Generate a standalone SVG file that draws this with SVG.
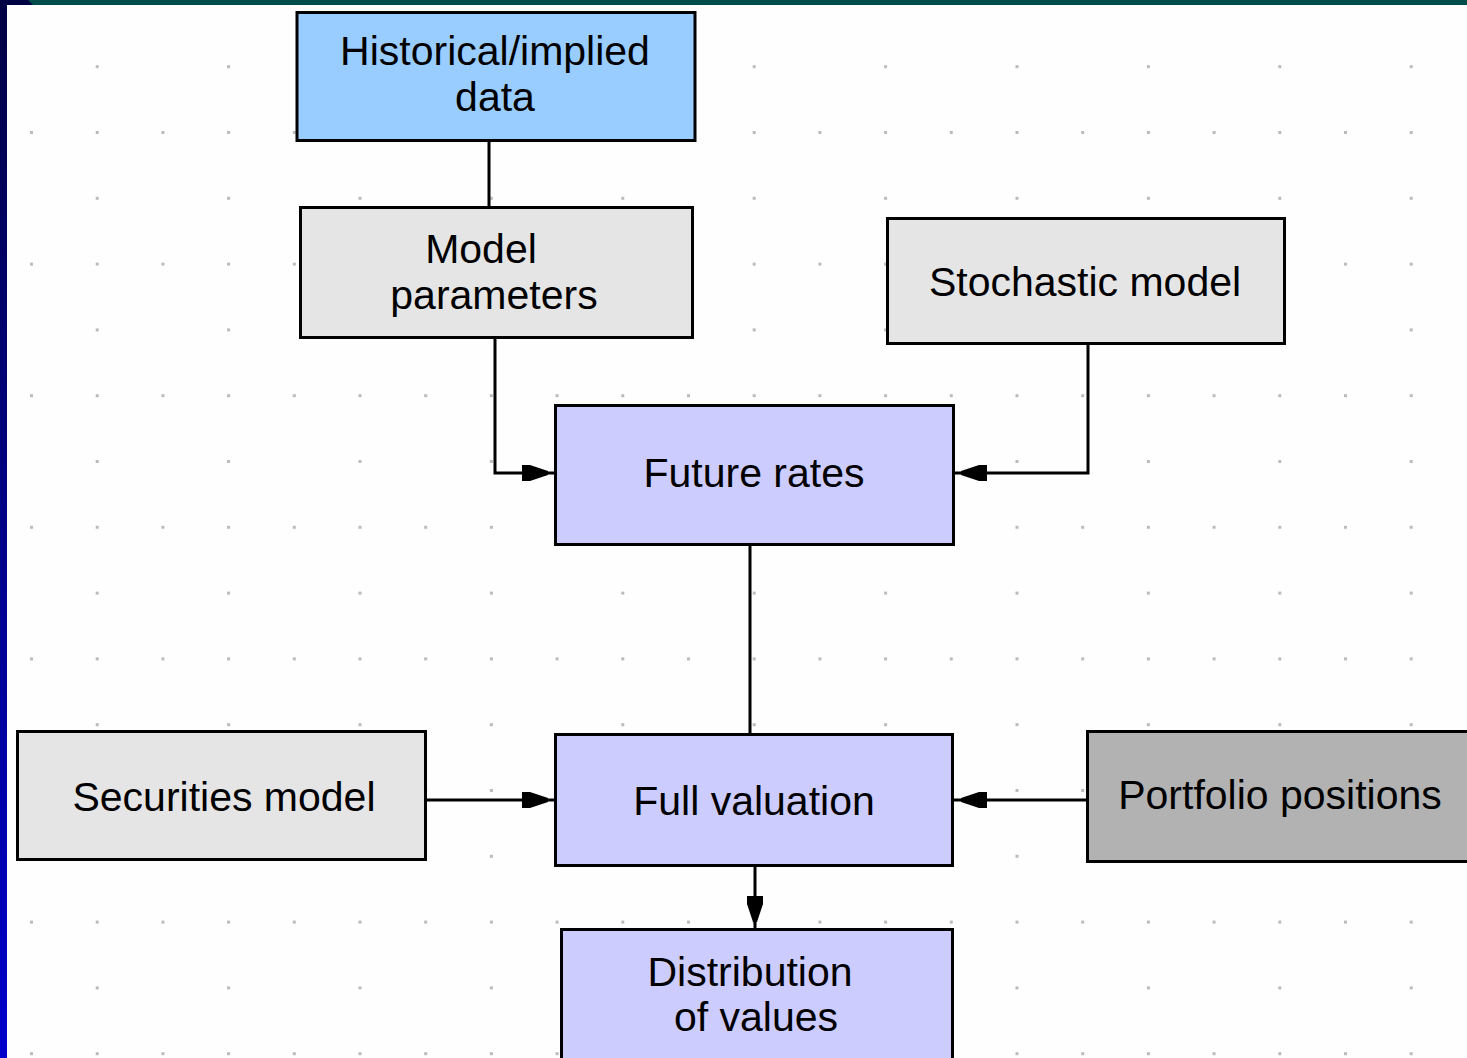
<svg xmlns="http://www.w3.org/2000/svg" width="1467" height="1058" viewBox="0 0 1467 1058">
  <style>
    .box { stroke: #000; stroke-width: 3; }
    .hist { fill: #99CCFF; }
    .grey { fill: #E5E5E5; }
    .lav { fill: #CCCCFF; }
    .dark { fill: #B2B2B2; }
    .lbl { font-family: "Liberation Sans", Arial, sans-serif; font-size: 41px; fill: #000; text-anchor: middle; }
    .conn { stroke: #000; stroke-width: 3; fill: none; }
    .dot { fill: #BBBBBB; shape-rendering: crispEdges; }
  </style>
  <defs>
    <pattern id="dots" patternUnits="userSpaceOnUse" x="30" y="131" width="131.4" height="131.6">
      <rect class="dot" x="0" y="0" width="2.5" height="2.5"/>
      <rect class="dot" x="65.7" y="0" width="2.5" height="2.5"/>
      <rect class="dot" x="65.7" y="65.8" width="2.5" height="2.5"/>
    </pattern>
    <linearGradient id="sidebar" x1="0" y1="0" x2="0" y2="1">
      <stop offset="0" stop-color="#000044"/>
      <stop offset="0.5" stop-color="#000088"/>
      <stop offset="1" stop-color="#0000CC"/>
    </linearGradient>
    <marker id="arr" markerUnits="userSpaceOnUse" viewBox="0 -10 34 20" markerWidth="34" markerHeight="20" refX="33" refY="0" orient="auto">
      <path d="M0,-8 L8,-8 L26,-2 L26,2 L8,8 L0,8 Z" fill="#000"/>
    </marker>
  </defs>

  <rect x="0" y="0" width="1467" height="1058" fill="#FEFEFE"/>
  <rect x="0" y="0" width="1467" height="1058" fill="url(#dots)"/>

  <!-- frame bars -->
  <rect x="0" y="0" width="1467" height="5" fill="#004C4C"/>
  <polygon points="0,0 28,0 33,5 0,5" fill="#000044"/>
  <rect x="0" y="0" width="7" height="1058" fill="url(#sidebar)"/>

  <g id="connectors">
    <path class="conn" d="M489,141 V207"/>
    <path class="conn" d="M495,339 V473 H555" marker-end="url(#arr)"/>
    <path class="conn" d="M1088,344 V473 H954" marker-end="url(#arr)"/>
    <path class="conn" d="M750,545 V734"/>
    <path class="conn" d="M426,800 H555" marker-end="url(#arr)"/>
    <path class="conn" d="M1088,800 H954" marker-end="url(#arr)"/>
    <path class="conn" d="M755,866 V929" marker-end="url(#arr)"/>
  </g>

  <g id="historical">
    <rect class="box hist" x="297" y="12.5" width="398" height="128"/>
    <text class="lbl" x="495" y="65">Historical/implied</text>
    <text class="lbl" x="495" y="111">data</text>
  </g>

  <g id="model-parameters">
    <rect class="box grey" x="300.5" y="207.5" width="392" height="130"/>
    <text class="lbl" x="481" y="263">Model</text>
    <text class="lbl" x="494" y="309">parameters</text>
  </g>

  <g id="stochastic-model">
    <rect class="box grey" x="887.5" y="218.5" width="397" height="125"/>
    <text class="lbl" x="1085" y="296">Stochastic model</text>
  </g>

  <g id="future-rates">
    <rect class="box lav" x="555.5" y="405.5" width="398" height="139"/>
    <text class="lbl" x="754" y="487">Future rates</text>
  </g>

  <g id="securities-model">
    <rect class="box grey" x="17.5" y="731.5" width="408" height="128"/>
    <text class="lbl" x="224" y="811">Securities model</text>
  </g>

  <g id="full-valuation">
    <rect class="box lav" x="555.5" y="734.5" width="397" height="131"/>
    <text class="lbl" x="754" y="815">Full valuation</text>
  </g>

  <g id="portfolio-positions">
    <rect class="box dark" x="1087.5" y="731.5" width="400" height="130"/>
    <text class="lbl" x="1280" y="809">Portfolio positions</text>
  </g>

  <g id="distribution">
    <rect class="box lav" x="561.5" y="929.5" width="391" height="140"/>
    <text class="lbl" x="750" y="986">Distribution</text>
    <text class="lbl" x="756" y="1031">of values</text>
  </g>
</svg>
